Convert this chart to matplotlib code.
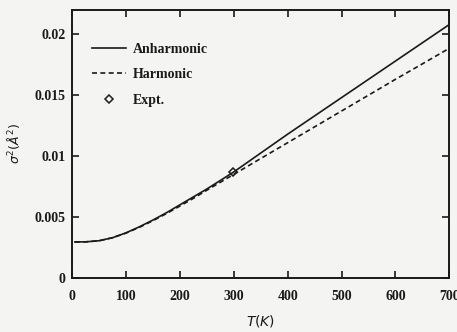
import numpy as np
import matplotlib
matplotlib.use("Agg")
import matplotlib.pyplot as plt

plt.rcParams['font.family'] = ['Liberation Serif', 'DejaVu Serif']

# temperature points (K)
temps = [5, 25, 50, 75, 100, 125, 150, 175, 200, 225, 250, 275, 300,
         350, 400, 450, 500, 550, 600, 650, 700]
# sigma^2 (A^2)
anharm = [0.00295, 0.00296, 0.00305, 0.00330, 0.00370, 0.00420, 0.00475,
          0.00535, 0.00600, 0.00665, 0.00730, 0.00800, 0.00870,
          0.01025, 0.01180, 0.01330, 0.01480, 0.01630, 0.01780, 0.01930, 0.02080]
harm = [0.00295, 0.00296, 0.00305, 0.00330, 0.00368, 0.00416, 0.00470,
        0.00528, 0.00590, 0.00653, 0.00720, 0.00785, 0.00850,
        0.00980, 0.01110, 0.01240, 0.01370, 0.01500, 0.01630, 0.01757, 0.01885]
expt_t = [298]
expt_s = [0.00870]

xticks = [0, 100, 200, 300, 400, 500, 600, 700]
yticks = [0, 0.005, 0.01, 0.015, 0.02]
ytick_labels = ['0', '0.005', '0.01', '0.015', '0.02']

fig = plt.figure(figsize=(4.57, 3.32), dpi=100)
fig.patch.set_facecolor('#f4f4f2')
ax = fig.add_axes([0.158, 0.163, 0.825, 0.807])
ax.set_facecolor('#f4f4f2')

ink = '#1a1a1a'
ax.plot(temps, anharm, '-', color=ink, lw=1.2, label='Anharmonic')
ax.plot(temps, harm, '--', color=ink, lw=1.2, dashes=(3, 2), label='Harmonic')
ax.plot(expt_t, expt_s, 'D', mfc='none', mec=ink, ms=4, mew=1.1, label='Expt.')

ax.set_xlim(0, 700)
ax.set_ylim(0, 0.022)
ax.set_xticks(xticks)
ax.set_xticklabels([str(t) for t in xticks])
ax.set_yticks(yticks)
ax.set_yticklabels(ytick_labels)
ax.tick_params(direction='in', top=True, right=True, length=5, width=1.2,
               labelsize=10, colors=ink)
ax.tick_params(axis='x', pad=9)
ax.tick_params(axis='y', pad=5)
for lab in ax.get_xticklabels() + ax.get_yticklabels():
    lab.set_fontweight('bold')
for s in ax.spines.values():
    s.set_linewidth(1.4)
    s.set_color(ink)

ax.set_xlabel(r'$T(K)$', fontsize=10, color=ink, labelpad=7)
ax.set_ylabel(r'$\sigma^2(\AA^2)$', fontsize=9, color=ink, labelpad=9)

leg = ax.legend(loc='upper left', frameon=False, fontsize=10, handlelength=2.4,
                bbox_to_anchor=(0.02, 0.925), labelspacing=0.9, handletextpad=0.5)
for t in leg.get_texts():
    t.set_fontweight('bold')
    t.set_color(ink)

fig.savefig('out.png', dpi=100, facecolor=fig.get_facecolor())
